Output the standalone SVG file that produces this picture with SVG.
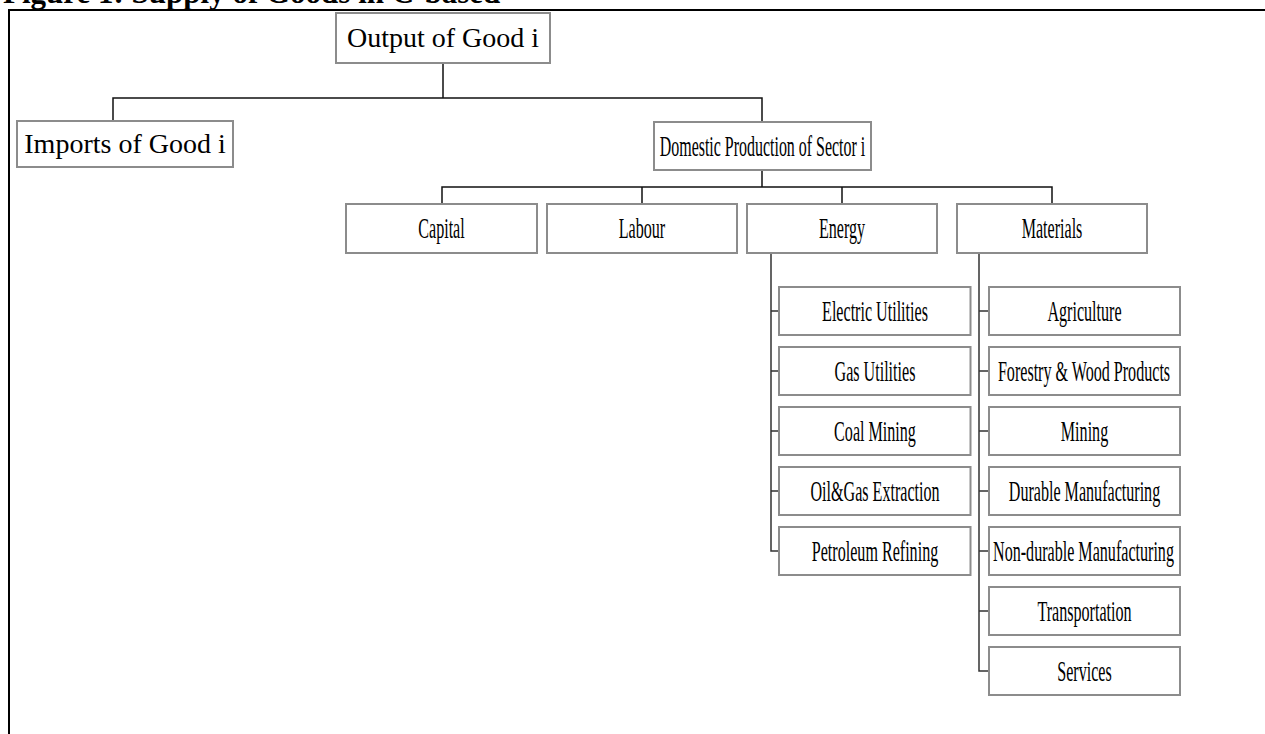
<svg xmlns="http://www.w3.org/2000/svg" width="1265" height="734" viewBox="0 0 1265 734">
<style>
.box{fill:#fff;stroke:#8c8c8c;stroke-width:2}
.t{font-family:"Liberation Serif","Times New Roman",serif;font-size:28px;fill:#000;text-anchor:middle}
.c{font-family:"Liberation Serif","Times New Roman",serif;font-size:29px;fill:#000;text-anchor:middle}
.ln{fill:none;stroke:#111;stroke-width:1.5}
.ln2{fill:none;stroke:#333;stroke-width:1.5}
.frame{fill:none;stroke:#000;stroke-width:2}
</style>
<rect width="1265" height="734" fill="#fff"/>
<text x="3" y="3" font-family="'Liberation Serif','Times New Roman',serif" font-size="31" font-weight="bold">Figure 1: Supply of Goods in C-based</text>
<path class="frame" d="M9 734 V10 H1265"/>
<g id="connectors">
<path class="ln" d="M443 63 V98 M113 121 V98 H762 V122"/>
<path class="ln" d="M762 170 V187 M442 204 V187 H1052 V204 M642 187 V204 M842 187 V204"/>
<path class="ln2" d="M771 253 V551 H779 M771 311 H779 M771 371 H779 M771 431 H779 M771 491 H779"/>
<path class="ln2" d="M979 253 V671 H989 M979 311 H989 M979 371 H989 M979 431 H989 M979 491 H989 M979 551 H989 M979 611 H989"/>
</g>
<g id="output"><rect class="box" x="336" y="13" width="214" height="50"/><text class="t" x="443" y="47">Output of Good i</text></g>
<g id="imports"><rect class="box" x="17" y="121" width="216" height="46"/><text class="t" x="125" y="153">Imports of Good i</text></g>
<g id="domestic"><rect class="box" x="654" y="122" width="217" height="48"/><text class="c" transform="translate(762.5,156) scale(0.55,1)">Domestic Production of Sector i</text></g>
<g id="capital"><rect class="box" x="346" y="204" width="191" height="49"/><text class="c" transform="translate(441.5,238) scale(0.555,1)">Capital</text></g>
<g id="labour"><rect class="box" x="547" y="204" width="190" height="49"/><text class="c" transform="translate(642,238) scale(0.555,1)">Labour</text></g>
<g id="energy"><rect class="box" x="747" y="204" width="190" height="49"/><text class="c" transform="translate(842,238) scale(0.555,1)">Energy</text></g>
<g id="materials"><rect class="box" x="957" y="204" width="190" height="49"/><text class="c" transform="translate(1052,238) scale(0.555,1)">Materials</text></g>
<g id="electric"><rect class="box" x="779" y="287" width="191.5" height="48"/><text class="c" transform="translate(875,320.5) scale(0.555,1)">Electric Utilities</text></g>
<g id="gas"><rect class="box" x="779" y="347" width="191.5" height="48"/><text class="c" transform="translate(875,380.5) scale(0.555,1)">Gas Utilities</text></g>
<g id="coal"><rect class="box" x="779" y="407" width="191.5" height="48"/><text class="c" transform="translate(875,440.5) scale(0.555,1)">Coal Mining</text></g>
<g id="oilgas"><rect class="box" x="779" y="467" width="191.5" height="48"/><text class="c" transform="translate(875,500.5) scale(0.555,1)">Oil&amp;Gas Extraction</text></g>
<g id="petroleum"><rect class="box" x="779" y="527" width="191.5" height="48"/><text class="c" transform="translate(875,560.5) scale(0.555,1)">Petroleum Refining</text></g>
<g id="agriculture"><rect class="box" x="989" y="287" width="191" height="48"/><text class="c" transform="translate(1084.5,320.5) scale(0.555,1)">Agriculture</text></g>
<g id="forestry"><rect class="box" x="989" y="347" width="191" height="48"/><text class="c" transform="translate(1084,380.5) scale(0.555,1)">Forestry &amp; Wood Products</text></g>
<g id="mining"><rect class="box" x="989" y="407" width="191" height="48"/><text class="c" transform="translate(1084.5,440.5) scale(0.555,1)">Mining</text></g>
<g id="durable"><rect class="box" x="989" y="467" width="191" height="48"/><text class="c" transform="translate(1084.5,500.5) scale(0.555,1)">Durable Manufacturing</text></g>
<g id="nondurable"><rect class="box" x="989" y="527" width="191" height="48"/><text class="c" transform="translate(1083.5,560.5) scale(0.555,1)">Non-durable Manufacturing</text></g>
<g id="transportation"><rect class="box" x="989" y="587" width="191" height="48"/><text class="c" transform="translate(1084.5,620.5) scale(0.555,1)">Transportation</text></g>
<g id="services"><rect class="box" x="989" y="647" width="191" height="48"/><text class="c" transform="translate(1084.5,680.5) scale(0.555,1)">Services</text></g>
</svg>
